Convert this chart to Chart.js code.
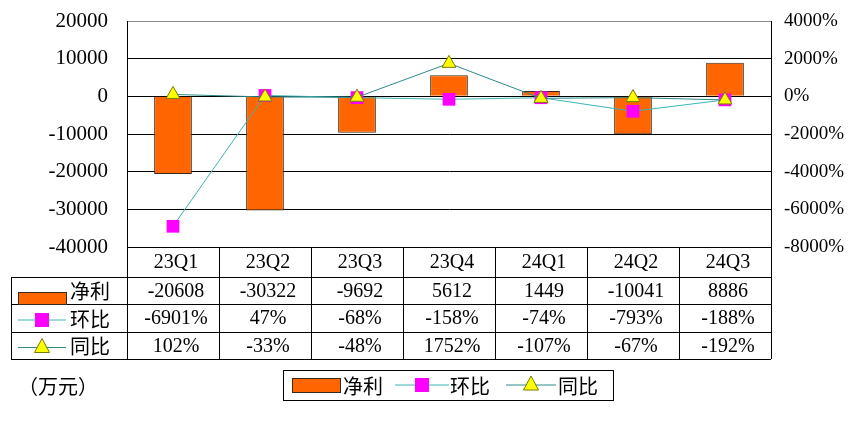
<!DOCTYPE html>
<html lang="zh-CN">
<head>
  <meta charset="UTF-8" />
  <title>净利 环比 同比</title>
  <script src="https://cdn.jsdelivr.net/npm/chart.js@4.4.3/dist/chart.umd.min.js"></script>
  <style>
    body { margin: 0; background: #ffffff; }
    .chart-box { width: 862px; height: 421px; }
  </style>
</head>
<body>
  <div class="chart-box">
    <canvas id="chartLucro" width="862" height="421"></canvas>
  </div>

  <script>
    // categorias (trimestres)
    const categories = ['23Q1', '23Q2', '23Q3', '23Q4', '24Q1', '24Q2', '24Q3'];

    // 净利 (万元)
    const netProfit = [-20608, -30322, -9692, 5612, 1449, -10041, 8886];

    // 环比 / 同比 (%)
    const qoq = [-6901, 47, -68, -158, -74, -793, -188];
    const yoy = [102, -33, -48, 1752, -107, -67, -192];

    // eixos
    const leftTicks = { min: -40000, max: 20000, step: 10000 };
    const rightTicks = { min: -8000, max: 4000, step: 2000 };

    const seriesNames = ['净利', '环比', '同比'];
    const unitLabel = '（万元）';

    const numFont = '20px "Liberation Serif", "Noto Sans CJK SC", serif';
    const cnFont = '20px "Noto Sans CJK SC", sans-serif';

    const colors = {
      bar: '#FF6600',
      barEdge: '#3a2a20',
      qoqLine: '#3BB5B5',
      qoqPoint: '#FF00FF',
      yoyLine: '#2E8A8A',
      yoyPoint: '#FFFF00',
      yoyEdge: '#7a7a00'
    };

    // fundo branco
    const whiteBg = {
      id: 'whiteBg',
      beforeDraw(chart) {
        const c = chart.ctx;
        c.save();
        c.fillStyle = '#ffffff';
        c.fillRect(0, 0, chart.width, chart.height);
        c.restore();
      }
    };

    function drawLineKey(c, x0, x1, y, kind) {
      const mid = (x0 + x1) / 2;
      c.strokeStyle = kind === 'qoq' ? colors.qoqLine : colors.yoyLine;
      c.lineWidth = 1;
      c.beginPath();
      c.moveTo(x0, y);
      c.lineTo(x1, y);
      c.stroke();
      if (kind === 'qoq') {
        c.fillStyle = colors.qoqPoint;
        c.fillRect(mid - 7, y - 7, 14, 14);
      } else {
        c.fillStyle = colors.yoyPoint;
        c.strokeStyle = colors.yoyEdge;
        c.beginPath();
        c.moveTo(mid, y - 9);
        c.lineTo(mid + 7.5, y + 5);
        c.lineTo(mid - 7.5, y + 5);
        c.closePath();
        c.fill();
        c.stroke();
      }
    }

    // tabela de dados + legenda
    const dataTable = {
      id: 'dataTable',
      afterDraw(chart) {
        const c = chart.ctx;
        const area = chart.chartArea;
        const x = chart.scales.x;
        const colW = (area.right - area.left) / categories.length;
        const tableLeft = 11;
        const rows = [area.bottom, area.bottom + 30, area.bottom + 57, area.bottom + 85, area.bottom + 112];

        c.save();
        c.strokeStyle = '#000000';
        c.lineWidth = 1;

        // linhas horizontais
        c.beginPath();
        c.moveTo(area.left, rows[0] + 0.5);
        c.lineTo(area.right, rows[0] + 0.5);
        for (let i = 1; i < rows.length; i++) {
          c.moveTo(tableLeft, rows[i] + 0.5);
          c.lineTo(area.right, rows[i] + 0.5);
        }
        // linhas verticais
        for (let k = 0; k <= categories.length; k++) {
          const px = Math.round(area.left + k * colW) + 0.5;
          c.moveTo(px, rows[0]);
          c.lineTo(px, rows[4]);
        }
        c.moveTo(tableLeft + 0.5, rows[1]);
        c.lineTo(tableLeft + 0.5, rows[4]);
        c.stroke();

        // textos
        c.fillStyle = '#000000';
        c.textAlign = 'center';
        c.textBaseline = 'middle';
        c.font = numFont;
        const rowVals = [
          categories,
          netProfit.map(v => String(v)),
          qoq.map(v => v + '%'),
          yoy.map(v => v + '%')
        ];
        rowVals.forEach((vals, r) => {
          const cy = (rows[r] + rows[r + 1]) / 2 + 1;
          vals.forEach((txt, i) => {
            c.fillText(txt, x.getPixelForValue(i) + 3, cy);
          });
        });

        // chaves da tabela
        const keyX0 = 18, keyX1 = 66;
        c.fillStyle = colors.bar;
        c.strokeStyle = colors.barEdge;
        c.fillRect(keyX0, rows[1] + 15, keyX1 - keyX0, 12);
        c.strokeRect(keyX0 + 0.5, rows[1] + 15.5, keyX1 - keyX0, 12);
        drawLineKey(c, keyX0, keyX1, (rows[2] + rows[3]) / 2 + 2, 'qoq');
        drawLineKey(c, keyX0, keyX1, (rows[3] + rows[4]) / 2 + 2, 'yoy');

        c.fillStyle = '#000000';
        c.font = cnFont;
        c.textAlign = 'left';
        for (let r = 0; r < 3; r++) {
          c.fillText(seriesNames[r], 70, (rows[r + 1] + rows[r + 2]) / 2 + 1);
        }

        // unidade
        c.fillText(unitLabel, 18, 386);

        // legenda
        const lg = { l: 283, t: 370, r: 613, b: 400 };
        const ly = (lg.t + lg.b) / 2;
        c.strokeStyle = '#000000';
        c.strokeRect(lg.l + 0.5, lg.t + 0.5, lg.r - lg.l, lg.b - lg.t);
        c.fillStyle = colors.bar;
        c.fillRect(292, ly - 7, 48, 14);
        c.strokeStyle = colors.barEdge;
        c.strokeRect(292.5, ly - 6.5, 48, 14);
        c.fillStyle = '#000000';
        c.fillText(seriesNames[0], 343, ly + 1);
        drawLineKey(c, 395, 449, ly, 'qoq');
        c.fillStyle = '#000000';
        c.fillText(seriesNames[1], 450, ly + 1);
        drawLineKey(c, 506, 556, ly, 'yoy');
        c.fillStyle = '#000000';
        c.fillText(seriesNames[2], 558, ly + 1);

        c.restore();
      }
    };

    new Chart(document.getElementById('chartLucro').getContext('2d'), {
      data: {
        labels: categories,
        datasets: [
          {
            type: 'bar',
            label: seriesNames[0],
            data: netProfit,
            backgroundColor: colors.bar,
            borderColor: colors.barEdge,
            borderWidth: 1,
            barPercentage: 0.41,
            categoryPercentage: 1,
            yAxisID: 'yLeft',
            order: 3
          },
          {
            type: 'line',
            label: seriesNames[1],
            data: qoq,
            borderColor: colors.qoqLine,
            borderWidth: 1,
            pointStyle: 'rect',
            pointRadius: 9,
            pointBackgroundColor: colors.qoqPoint,
            pointBorderColor: colors.qoqPoint,
            pointBorderWidth: 0,
            tension: 0,
            yAxisID: 'yRight',
            order: 2
          },
          {
            type: 'line',
            label: seriesNames[2],
            data: yoy,
            borderColor: colors.yoyLine,
            borderWidth: 1,
            pointStyle: 'triangle',
            pointRadius: 8,
            pointBackgroundColor: colors.yoyPoint,
            pointBorderColor: colors.yoyEdge,
            pointBorderWidth: 1,
            tension: 0,
            yAxisID: 'yRight',
            order: 1
          }
        ]
      },
      options: {
        responsive: false,
        animation: false,
        layout: { padding: { top: 21, bottom: 174, left: 0, right: 0 } },
        scales: {
          x: {
            display: false,
            offset: true
          },
          yLeft: {
            type: 'linear',
            position: 'left',
            min: leftTicks.min,
            max: leftTicks.max,
            afterFit(scale) {
              scale.width = 127;
              scale.paddingTop = 0;
              scale.paddingBottom = 0;
            },
            ticks: {
              stepSize: leftTicks.step,
              color: '#000000',
              padding: 19,
              font: { family: '"Liberation Serif", serif', size: 21 },
              callback: v => String(v)
            },
            grid: {
              drawTicks: false,
              color: ctx => (ctx.tick && ctx.tick.value === leftTicks.max) ? '#8a8a8a' : '#000000'
            },
            border: { display: true, color: '#000000' }
          },
          yRight: {
            type: 'linear',
            position: 'right',
            min: rightTicks.min,
            max: rightTicks.max,
            afterFit(scale) {
              scale.width = 91;
              scale.paddingTop = 0;
              scale.paddingBottom = 0;
            },
            ticks: {
              stepSize: rightTicks.step,
              color: '#000000',
              padding: 13,
              font: { family: '"Liberation Serif", serif', size: 19 },
              callback: v => v + '%'
            },
            grid: { drawOnChartArea: false, drawTicks: false },
            border: { display: true, color: '#000000' }
          }
        },
        plugins: {
          legend: { display: false },
          title: { display: false },
          tooltip: { enabled: false }
        }
      },
      plugins: [whiteBg, dataTable]
    });
  </script>
</body>
</html>
